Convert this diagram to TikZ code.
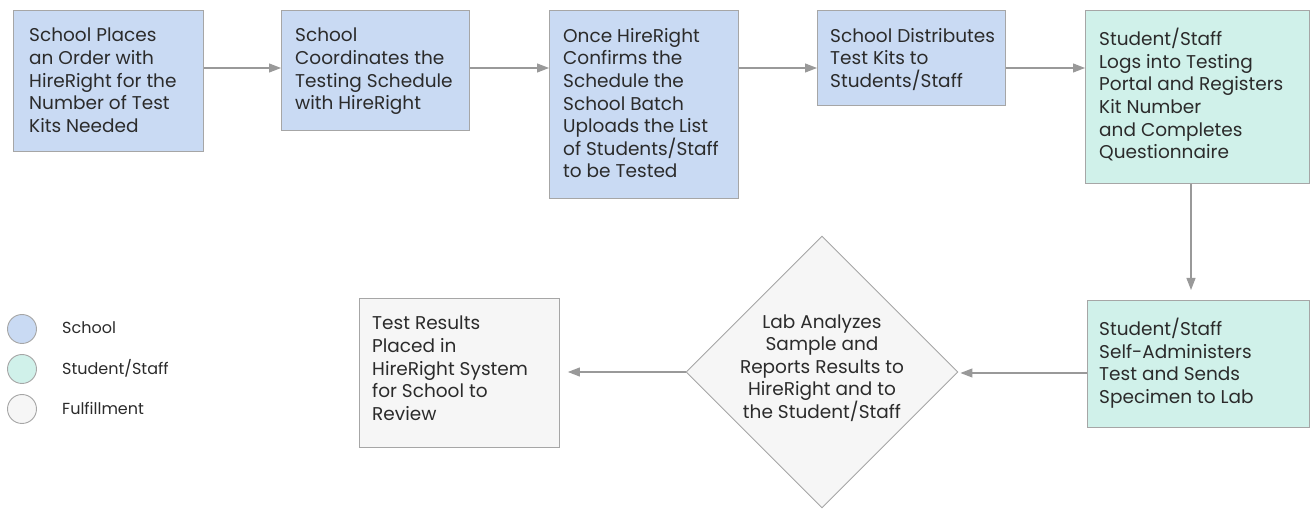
\documentclass[tikz,border=0pt]{standalone}
\usepackage{fontspec}
\setmainfont{Poppins}
\usetikzlibrary{arrows.meta,shapes.geometric,calc}
\definecolor{schoolfill}{HTML}{C9DAF3}
\definecolor{staffill}{HTML}{D0F1EA}
\definecolor{fulfill}{HTML}{F6F6F6}
\definecolor{edgegray}{HTML}{A6A6A6}
\definecolor{arrowgray}{HTML}{999999}
\definecolor{txtcol}{HTML}{2B2B2B}
\tikzset{
  box/.style={draw=edgegray, line width=0.9pt, inner sep=0pt, anchor=north west},
  school/.style={box, fill=schoolfill},
  staff/.style={box, fill=staffill},
  done/.style={box, fill=fulfill},
  txt/.style={anchor=north west, inner sep=0pt, align=left, text=txtcol,
    font=\fontsize{18.5}{22.6}\selectfont},
  flow/.style={draw=arrowgray, line width=1.1pt, -{Triangle[length=12pt,width=9pt]}},
  dot/.style={circle, draw=edgegray, line width=0.9pt, minimum size=29pt, inner sep=0pt},
  legtxt/.style={anchor=west, inner sep=0pt, text=txtcol, font=\fontsize{16}{18}\selectfont}
}
\begin{document}
\begin{tikzpicture}[x=1pt,y=-1pt]
\useasboundingbox (0,0) rectangle (1310,510);
% boxes
\node[school, minimum width=190pt, minimum height=141pt] (b1) at (13,10) {};
\node[school, minimum width=188pt, minimum height=120pt] (b2) at (281,10) {};
\node[school, minimum width=189pt, minimum height=188pt] (b3) at (549,10) {};
\node[school, minimum width=188pt, minimum height=95pt] (b4) at (817,10) {};
\node[staff, minimum width=224pt, minimum height=173pt] (b5) at (1085,10) {};
\node[staff, minimum width=222pt, minimum height=127pt] (b6) at (1087,300) {};
\node[done, minimum width=200pt, minimum height=149pt] (b7) at (359,298) {};
\node[diamond, draw=edgegray, line width=0.9pt, fill=fulfill, inner sep=0pt,
      minimum width=272pt, minimum height=272pt] (d1) at (822,372) {};
% texts
\node[txt] (t1) at ($(b1.north west)+(16,18)$) {School Places\\an Order with\\HireRight for the\\Number of Test\\Kits Needed};
\node[txt] (t2) at ($(b2.north west)+(14,18)$) {School\\Coordinates the\\Testing Schedule\\with HireRight};
\node[txt] (t3) at ($(b3.north west)+(14,18)$) {Once HireRight\\Confirms the\\Schedule the\\School Batch\\Uploads the List\\of Students/Staff\\to be Tested};
\node[txt] (t4) at ($(b4.north west)+(13,18)$) {School Distributes\\Test Kits to\\Students/Staff};
\node[txt] (t5) at ($(b5.north west)+(14,18)$) {Student/Staff\\Logs into Testing\\Portal and Registers\\Kit Number\\and Completes\\Questionnaire};
\node[txt] (t6) at ($(b6.north west)+(12,18)$) {Student/Staff\\Self-Administers\\Test and Sends\\Specimen to Lab};
\node[txt] (t7) at ($(b7.north west)+(13,18)$) {Test Results\\Placed in\\HireRight System\\for School to\\Review};
\node[txt, anchor=center, align=center] (td) at ($(d1.center)+(0,-4)$) {Lab Analyzes\\Sample and\\Reports Results to\\HireRight and to\\the Student/Staff};
% connectors
\draw[flow] (b1.east |- 0,68) -- (b2.west |- 0,68);
\draw[flow] (b2.east |- 0,68) -- (b3.west |- 0,68);
\draw[flow] (b3.east |- 0,68) -- (b4.west |- 0,68);
\draw[flow] (b4.east |- 0,68) -- (b5.west |- 0,68);
\draw[flow] (b5.south -| 1191,0) -- ($(b6.north -| 1191,0)+(0,-10)$);
\draw[flow] (b6.west |- 0,373) -- ($(d1.east |- 0,373)+(2,0)$);
\draw[flow] (d1.west) -- ($(b7.east |- d1.west)+(8,0)$);
% legend
\node[dot, fill=schoolfill] (l1) at (22,329) {};
\node[dot, fill=staffill] (l2) at (22,369) {};
\node[dot, fill=fulfill] (l3) at (22,409) {};
\node[legtxt] (lt1) at (62,328) {School};
\node[legtxt] (lt2) at (62,368) {Student/Staff};
\node[legtxt] (lt3) at (62,408) {Fulfillment};
\end{tikzpicture}
\end{document}
